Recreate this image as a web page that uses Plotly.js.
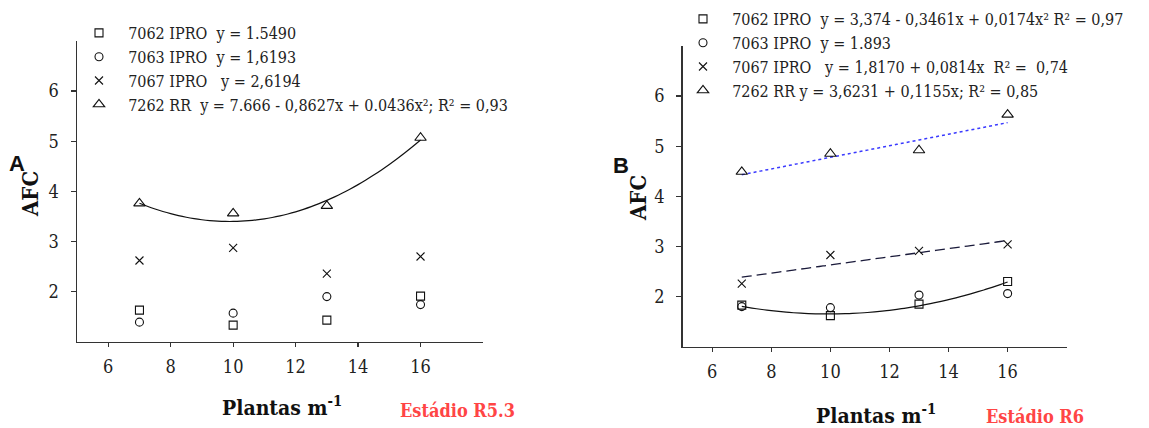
<!DOCTYPE html>
<html>
<head>
<meta charset="utf-8">
<script src="https://cdn.plot.ly/plotly-3.0.1.min.js"></script>
<style>html,body{margin:0;padding:0;background:#fff;}#chart{width:1149px;height:428px;}</style>
</head>
<body>
<div id="chart"></div>
<script>
// Densidade de plantas (plantas m-1)
const plantas = [7, 10, 13, 16];

// Painel A – Estádio R5.3
const a7062 = [1.63, 1.33, 1.43, 1.91];
const a7063 = [1.39, 1.57, 1.90, 1.74];
const a7067 = [2.62, 2.87, 2.36, 2.70];
const a7262 = [3.76, 3.56, 3.71, 5.07];

// Painel B – Estádio R6
const b7062 = [1.83, 1.62, 1.85, 2.30];
const b7063 = [1.80, 1.78, 2.03, 2.06];
const b7067 = [2.26, 2.83, 2.91, 3.04];
const b7262 = [4.49, 4.85, 4.92, 5.63];

// Coeficientes das equações de regressão mostradas nas legendas
const fitA7262 = [7.666, -0.8627, 0.0436];
const fitB7062 = [3.374, -0.3461, 0.0174];
const fitB7067 = [1.8170, 0.0814];
const fitB7262 = [3.6231, 0.1155];

// Textos das legendas
const legA = [
  "7062 IPRO  y = 1.5490",
  "7063 IPRO  y = 1,6193",
  "7067 IPRO   y = 2,6194",
  "7262 RR  y = 7.666 - 0,8627x + 0.0436x²; R² = 0,93"
];
const legB = [
  "7062 IPRO  y = 3,374 - 0,3461x + 0,0174x² R² = 0,97",
  "7063 IPRO  y = 1.893",
  "7067 IPRO   y = 1,8170 + 0,0814x  R² =  0,74",
  "7262 RR y = 3,6231 + 0,1155x; R² = 0,85"
];
const xTicks = [6, 8, 10, 12, 14, 16];
const yTicks = [2, 3, 4, 5, 6];

function nb(s) { return "\u00a0\u00a0" + s.replace(/ /g, "\u00a0"); }
function poly(c, x) { let v = 0; for (let i = 0; i < c.length; i++) v += c[i] * Math.pow(x, i); return v; }
function fitLine(c) {
  const xs = [], ys = [];
  for (let x = plantas[0]; x <= plantas[plantas.length - 1] + 1e-9; x += 0.25) { xs.push(x); ys.push(poly(c, x)); }
  return {x: xs, y: ys};
}

const serif = "DejaVu Serif Condensed";
const symbols = ["square-open", "circle-open", "x-thin-open", "triangle-up-open"];
const sizes = [8, 8, 8, 10];

function pts(yv, i, xa, ya, name, legend) {
  return {
    x: plantas, y: yv, xaxis: xa, yaxis: ya, mode: "markers", name: nb(name),
    legend: legend, hoverinfo: "skip",
    marker: {symbol: symbols[i], size: sizes[i], color: "#111", line: {color: "#111", width: 1.1}}
  };
}
function lineTrace(c, xa, ya, color, dash, width) {
  const f = fitLine(c);
  return {x: f.x, y: f.y, xaxis: xa, yaxis: ya, mode: "lines", showlegend: false, hoverinfo: "skip",
    line: {color: color, dash: dash, width: width, shape: "spline"}};
}

const traces = [
  lineTrace(fitA7262, "x", "y", "#111", "solid", 1.2),
  lineTrace(fitB7062, "x2", "y2", "#111", "solid", 1.2),
  lineTrace(fitB7067, "x2", "y2", "#1a1a3a", "10px,5px", 1.3),
  lineTrace(fitB7262, "x2", "y2", "#3a3aff", "dot", 1.5),
  pts(a7062, 0, "x", "y", legA[0], "legend"),
  pts(a7063, 1, "x", "y", legA[1], "legend"),
  pts(a7067, 2, "x", "y", legA[2], "legend"),
  pts(a7262, 3, "x", "y", legA[3], "legend"),
  pts(b7062, 0, "x2", "y2", legB[0], "legend2"),
  pts(b7063, 1, "x2", "y2", legB[1], "legend2"),
  pts(b7067, 2, "x2", "y2", legB[2], "legend2"),
  pts(b7262, 3, "x2", "y2", legB[3], "legend2")
];

const W = 1149, H = 428;
function axX(d, anchor) {
  return {domain: d, anchor: anchor, range: [5, 18], tickvals: xTicks, ticktext: xTicks.map(String),
    showgrid: false, zeroline: false, showline: true, linecolor: "#333", linewidth: 1.5,
    ticks: "outside", ticklen: 4, tickcolor: "#333", tickwidth: 1.3, ticklabelstandoff: 4,
    tickfont: {family: serif, size: 18, color: "#222"}, fixedrange: true};
}
function axY(d, anchor) {
  return {domain: d, anchor: anchor, range: [1, 7], tickvals: yTicks, ticktext: yTicks.map(String),
    showgrid: false, zeroline: false, showline: true, linecolor: "#333", linewidth: 1.5,
    ticks: "outside", ticklen: 5, tickcolor: "#333", tickwidth: 1.3, ticklabelstandoff: 8,
    tickfont: {family: serif, size: 18, color: "#222"}, fixedrange: true};
}
function ann(text, x, y, font, extra) {
  return Object.assign({text: text, x: x / W, y: 1 - y / H, xref: "paper", yref: "paper",
    showarrow: false, xanchor: "center", yanchor: "middle", font: font}, extra || {});
}
const titleFont = {family: serif, size: 21, color: "#111", weight: "bold"};
const afcFont = {family: serif, size: 22, color: "#111", weight: "bold"};
const redFont = {family: serif, size: 18, color: "#ff4545", weight: "bold"};
const letterFont = {family: "Liberation Sans", size: 22, color: "#111", weight: "bold"};

const layout = {
  width: W, height: H, margin: {l: 0, r: 0, t: 0, b: 0},
  paper_bgcolor: "#fff", plot_bgcolor: "#fff",
  xaxis: axX([77 / W, 483 / W], "y"),
  yaxis: axY([1 - 341.7 / H, 1 - 41 / H], "x"),
  xaxis2: axX([682.7 / W, 1066.7 / W], "y2"),
  yaxis2: axY([1 - 346.7 / H, 1 - 46 / H], "x2"),
  legend: {x: 79 / W, y: 1 - 16 / H, xanchor: "left", yanchor: "top", bgcolor: "rgba(0,0,0,0)",
    font: {family: serif, size: 16, color: "#222"}, borderwidth: 0},
  legend2: {x: 683 / W, y: 1 - 2 / H, xanchor: "left", yanchor: "top", bgcolor: "rgba(0,0,0,0)",
    font: {family: serif, size: 16, color: "#222"}, borderwidth: 0},
  annotations: [
    ann("AFC", 30, 194, afcFont, {textangle: -90}),
    ann("AFC", 638, 198, afcFont, {textangle: -90}),
    ann("Plantas m<sup>-1</sup>", 282, 406, titleFont),
    ann("Plantas m<sup>-1</sup>", 876, 414, titleFont),
    ann("Estádio R5.3", 457, 410, redFont),
    ann("Estádio R6", 1035, 416, redFont),
    ann("A", 17, 164, letterFont),
    ann("B", 621, 165, letterFont)
  ]
};

Plotly.newPlot("chart", traces, layout, {displayModeBar: false, staticPlot: true});
</script>
</body>
</html>
